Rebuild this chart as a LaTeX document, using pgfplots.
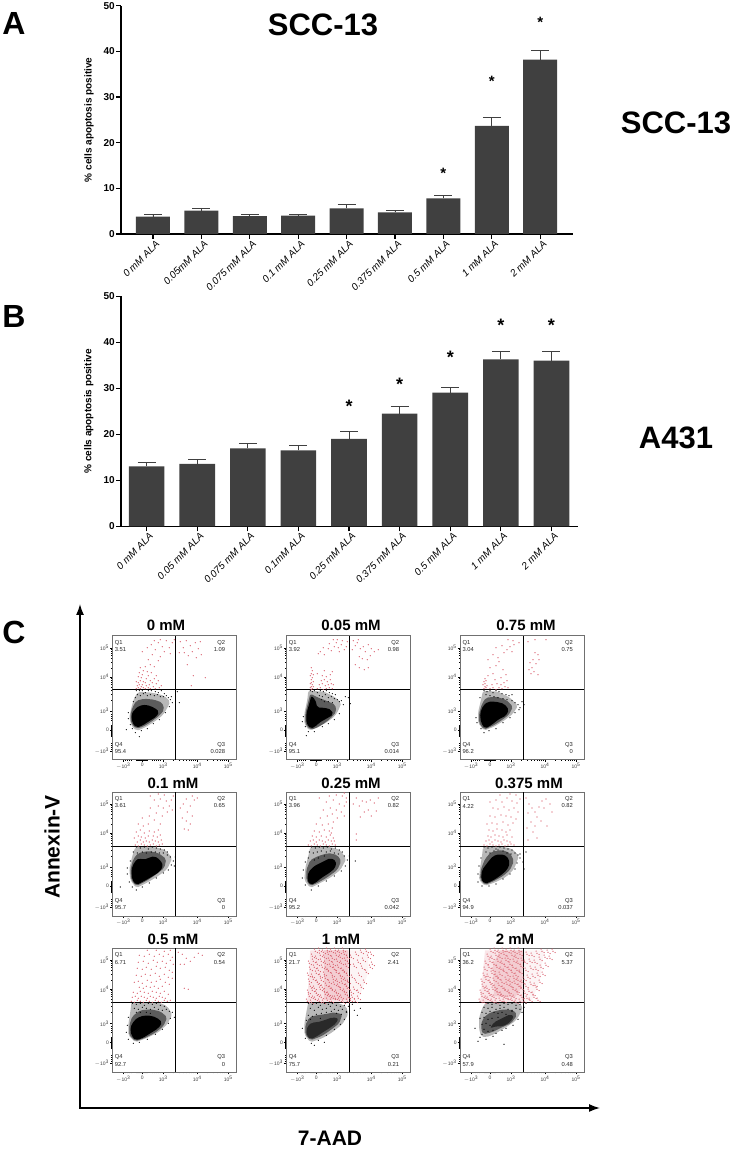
\documentclass[border=0pt]{standalone}
\usepackage{pgfplots}
\pgfplotsset{compat=1.18}
\usepackage{fontspec}
\setmainfont{Liberation Sans}
\usetikzlibrary{arrows.meta}
\definecolor{barc}{HTML}{404040}
\definecolor{redpt}{HTML}{D8606E}
\definecolor{framec}{HTML}{707070}
\newcommand{\fs}[1]{\fontsize{#1}{#1}\selectfont}
\pgfplotstableread{
x y err
0 3.8 0.5
1 5.1 0.6
2 3.9 0.4
3 4.0 0.3
4 5.6 0.9
5 4.75 0.35
6 7.8 0.6
7 23.7 1.8
8 38.2 2.0
}\tabA
\pgfplotstableread{
x y err
0 13.0 0.85
1 13.55 1.0
2 16.95 1.15
3 16.5 1.0
4 19.0 1.6
5 24.5 1.5
6 29.05 1.15
7 36.3 1.6
8 36.0 2.0
}\tabB
\tikzset{
 starn/.style={font=\bfseries\fs{#1},inner sep=0pt,yshift=-3pt},
 qtext/.style={font=\fs{5.8},text=black!85,inner sep=0pt},
}
\def\coreop{1}
\pgfplotsset{
 barax/.style={
  scale only axis, axis lines=left, axis line style={-,line width=1.5pt,black},
  ymin=0,ymax=50,ytick={0,10,20,30,40,50},
  xtick={0,...,8}, tick align=outside, major tick length=5pt,
  tick style={black,line width=1.2pt},
  /pgf/number format/assume math mode=true,
  yticklabel style={font=\bfseries\fs{10},inner sep=1pt},
  xticklabel style={font=\itshape\fs{10},rotate=45,anchor=north east,inner sep=1pt,xshift=2pt,yshift=-1pt},
  ylabel={\% cells apoptosis positive},
  ylabel style={at={(axis description cs:-0.0708,0.5)},anchor=center,font=\bfseries\fs{10},inner sep=0pt},
  clip=false,
 },
 barst/.style={ybar,bar shift=0pt,fill=barc,draw=none,
  error bars/.cd,y dir=plus,y explicit,
  error bar style={line width=0.9pt,color=barc},
  error mark options={rotate=90,mark size=9pt,line width=0.9pt,color=barc}},
 blackpts/.style={only marks,mark=*,mark size=0.3pt,color=black,mark options={solid,fill=black,draw=none}},
 redpts/.style={only marks,mark=*,mark size=0.34pt,color=redpt,mark options={solid,fill=redpt,draw=none}},
 qline/.style={black,line width=0.9pt},
 outerfill/.style={fill=black,fill opacity=0.28,draw=none,rounded corners=2pt},
 midfill/.style={fill=black,fill opacity=0.5,draw=none,rounded corners=2pt},
 corefill/.style={fill=black,fill opacity=\coreop,draw=none,rounded corners=2pt},
 redone/.style={fill=redpt,fill opacity=0.16,draw=none},
 redtwo/.style={fill=redpt,fill opacity=0.18,draw=none},
 redthr/.style={fill=redpt,fill opacity=0.07,draw=none},
 panelax/.style={
  scale only axis,width=124pt,height=124pt,xmin=0,xmax=124,ymin=0,ymax=124,
  axis line style={framec,line width=0.7pt},
  tick align=outside,xtick pos=bottom,ytick pos=left,
  major tick length=2.2pt,minor tick length=1.1pt,
  tick style={black,line width=0.35pt},
  minor tick style={black,line width=0.3pt},
  xtick={11,30,51,85,116},
  xticklabels={$-$10\textsuperscript{3},0,10\textsuperscript{3},10\textsuperscript{4},10\textsuperscript{5}},
  ytick={9,30,49,83,112},
  yticklabels={$-$10\textsuperscript{3},0,10\textsuperscript{3},10\textsuperscript{4},10\textsuperscript{5}},
  minor xtick={13,15,17,19,24,25,26,27,28,29,31,32,33,34,35,40,42,44,46,48,61,67,71,74,77,79,81,83,95,101,105,108,110,112,114},
  minor ytick={11,13,15,17,24,25,26,27,28,29,31,32,33,34,35,40,42,44,46,60,66,70,73,76,78,80,82,92,98,102,105,107,109,111},
  ticklabel style={font=\fs{5},text=black!75,inner sep=1pt},
 },
}
% Panel data: hand estimates in frame pixels, measured from the frame's lower left corner
\def\oA{(24,29)(19,34)(17,42)(19,52)(22,62)(26,68)(40,67)(52,64)(58,58)(54,50)(50,44)(42,38)(34,33)(28,30)}
\def\mA{(24,31)(19,36)(18,44)(20,52)(24,59)(32,61)(42,60)(50,57)(52,50)(47,44)(39,38)(31,33)}
\def\cA{(24,32)(20,37)(19,45)(22,50)(27,54)(34,55)(42,52)(47,48)(44,43)(36,38)(30,34)}
\def\hA{(24,69)(27,69)(30,69)(33,67)(36,69)(39,69)(43,68)(46,67)(49,69)(52,66)(25,65)(28,64)(31,66)(35,64)(38,65)(42,64)(45,65)(48,63)(51,63)(54,64)(56,62)(58,60)(23,62)(21,58)(59,63)(16,47)(16,41)(18,35)(20,31)(23,27)(29,29)(35,31)(41,36)(47,40)(53,47)(57,53)(60,57)(14,30)(27,23)(65,68)(67,57)}
\def\rA{(24,71)(26,72)(28,71)(25,74)(27,75)(29,73)(31,72)(33,71)(30,75)(26,77)(24,78)(28,79)(31,78)(34,74)(36,72)(38,71)(37,75)(33,77)(29,82)(26,83)(30,85)(34,81)(38,79)(41,73)(43,71)(44,76)(40,77)(47,72)(49,74)(46,79)(42,81)(36,84)(27,87)(31,89)(35,88)(28,92)(33,93)(39,87)(44,84)(38,95)(42,93)(46,99)(36,100)(40,105)(48,103)(30,108)(35,112)(39,115)(43,110)(46,117)(50,113)(54,119)(57,112)(60,117)(52,108)(58,106)(62,120)(48,120)(42,119)(68,118)(71,112)(74,119)(78,114)(80,108)(83,117)(86,111)(89,105)(84,102)(76,104)(72,107)(88,118)(67,107)(75,95)(81,84)(93,82)(79,74)}

\def\oB{(23,29)(18,36)(18,46)(21,60)(22,69)(38,68)(48,63)(55,57)(52,49)(48,43)(40,37)(32,33)}
\def\mB{(24,30)(19,36)(19,46)(22,58)(24,66)(32,62)(40,59)(49,55)(50,48)(44,41)(36,35)(29,31)}
\def\cB{(24,31)(20,37)(20,46)(23,56)(25,64)(29,60)(31,52)(38,52)(45,50)(47,45)(40,41)(33,37)(29,33)}
\def\hB{(24,69)(26,68)(28,69)(31,67)(34,69)(37,68)(40,69)(43,67)(46,66)(49,65)(33,64)(36,63)(39,65)(42,62)(45,63)(48,61)(51,60)(53,58)(55,59)(57,55)(35,60)(38,58)(42,58)(46,57)(17,43)(16,38)(19,33)(22,28)(28,28)(36,33)(42,36)(48,40)(53,46)(59,63)(62,62)(64,56)(20,24)}
\def\rB{(25,70)(26,71)(24,72)(25,73)(27,73)(26,75)(24,76)(25,77)(27,78)(25,80)(26,82)(24,84)(25,86)(27,85)(26,89)(25,92)(31,71)(34,72)(37,70)(40,71)(43,72)(46,71)(33,75)(36,76)(39,74)(42,75)(45,76)(35,79)(38,80)(41,78)(44,80)(47,75)(36,84)(40,83)(44,85)(46,88)(31,86)(38,89)(32,106)(34,108)(38,105)(37,112)(42,111)(45,109)(48,113)(50,117)(52,112)(55,115)(53,108)(58,110)(60,113)(47,120)(51,120)(56,119)(61,118)(43,116)(66,110)(69,114)(71,117)(74,111)(77,113)(79,108)(82,115)(85,111)(88,108)(73,103)(76,101)(81,100)(84,104)(69,95)(73,92)(78,90)(82,92)(67,119)(72,120)(92,110)}

\def\oC{(24,29)(18,37)(18,47)(21,60)(23,69)(38,68)(50,62)(58,54)(53,46)(44,39)(34,33)}
\def\mC{(24,30)(19,37)(19,46)(22,56)(26,62)(36,63)(46,60)(53,53)(49,45)(41,39)(33,34)}
\def\cC{(25,31)(21,37)(20,46)(23,54)(28,58)(36,58)(44,56)(49,50)(46,44)(38,40)(32,35)}
\def\hC{(24,69)(27,68)(30,69)(33,67)(36,69)(39,68)(42,66)(46,65)(49,64)(26,65)(30,64)(34,63)(38,62)(43,61)(47,60)(52,59)(55,57)(58,55)(60,52)(62,58)(16,42)(17,37)(21,31)(24,27)(29,29)(36,31)(43,37)(50,42)(55,47)(59,50)(20,62)(64,55)(52,65)}
\def\rC{(24,71)(25,73)(26,72)(23,75)(25,76)(27,74)(24,78)(26,79)(25,81)(30,71)(33,72)(36,70)(39,72)(42,71)(45,73)(48,72)(32,75)(37,76)(41,75)(44,77)(47,79)(35,80)(28,84)(33,86)(41,82)(46,85)(30,92)(36,94)(43,90)(39,98)(28,100)(33,105)(38,102)(44,107)(47,110)(42,114)(50,113)(54,115)(52,108)(36,112)(48,120)(53,119)(59,117)(68,118)(75,120)(86,120)(70,97)(73,100)(76,96)(72,92)(69,90)(74,88)(78,105)(75,107)(79,100)(71,86)(78,85)}

\def\oD{(24,28)(18,36)(17,47)(20,60)(23,69)(42,69)(53,66)(60,58)(55,47)(46,40)(36,34)}
\def\mD{(24,30)(19,36)(18,46)(21,57)(26,63)(36,65)(46,63)(54,57)(52,48)(43,41)(34,35)}
\def\cD{(24,31)(20,36)(19,46)(22,54)(27,58)(31,56)(36,58)(42,60)(48,56)(51,50)(47,44)(39,39)(32,35)}
\def\hD{(24,69)(28,68)(32,69)(36,67)(40,69)(44,68)(48,67)(52,66)(55,64)(21,64)(25,63)(30,64)(34,63)(39,64)(43,64)(47,63)(51,63)(55,61)(58,59)(61,55)(59,51)(56,46)(51,43)(44,38)(37,33)(30,29)(24,26)(20,29)(17,34)(15,42)(15,48)(18,55)(8,29)(63,59)(62,50)}
\def\rD{(23,71)(26,70)(29,72)(32,71)(35,70)(38,71)(41,72)(44,70)(47,71)(50,72)(25,74)(28,76)(31,74)(34,75)(37,74)(40,76)(43,75)(46,74)(49,76)(22,78)(26,80)(29,79)(33,78)(36,80)(41,80)(45,79)(48,81)(24,84)(28,86)(32,83)(37,85)(42,84)(46,86)(26,92)(31,90)(36,92)(42,96)(48,92)(37,100)(30,98)(44,103)(50,100)(55,104)(38,108)(46,110)(51,108)(57,110)(60,106)(42,116)(48,117)(54,115)(59,116)(61,120)(38,120)(52,121)(46,122)(68,108)(71,112)(75,104)(78,110)(82,116)(85,118)(80,120)(74,117)(70,98)(74,95)(78,92)(72,87)(76,86)(80,100)}

\def\oE{(24,28)(18,36)(19,48)(22,60)(24,69)(44,69)(54,66)(60,57)(54,46)(45,39)(34,33)}
\def\mE{(24,30)(20,36)(20,46)(24,56)(32,60)(42,63)(51,61)(55,55)(51,46)(40,38)(31,33)}
\def\cE{(24,31)(21,36)(22,44)(28,50)(36,54)(44,58)(50,55)(49,48)(43,43)(35,38)(29,33)}
\def\hE{(25,69)(29,68)(33,69)(37,68)(41,69)(45,67)(49,68)(53,66)(56,64)(23,64)(27,63)(31,64)(35,65)(40,64)(44,65)(48,63)(52,62)(58,60)(61,56)(59,50)(55,45)(48,40)(40,35)(32,30)(25,26)(19,31)(16,38)(17,46)(19,54)(22,58)(63,60)(69,55)(38,60)(32,58)(28,56)}
\def\rE{(22,71)(25,70)(28,72)(31,71)(34,70)(37,72)(40,71)(43,70)(46,72)(49,71)(24,75)(27,76)(30,74)(33,76)(36,75)(39,74)(42,76)(45,75)(48,75)(26,80)(30,79)(35,80)(40,79)(44,81)(47,78)(28,85)(33,84)(38,86)(43,85)(46,88)(45,83)(30,92)(36,91)(42,92)(47,94)(34,98)(41,100)(46,102)(51,98)(37,106)(44,108)(50,106)(55,104)(58,100)(40,114)(47,116)(53,112)(58,110)(60,114)(43,120)(50,121)(56,120)(60,118)(58,123)(33,118)(67,112)(70,118)(73,110)(76,115)(80,114)(84,116)(88,113)(92,118)(78,104)(82,106)(85,100)(90,105)(74,99)(70,82)(70,76)}

\def\oF{(25,30)(19,36)(20,48)(22,60)(23,69)(44,69)(52,67)(59,60)(54,47)(46,39)(36,34)}
\def\mF{(25,31)(20,37)(21,47)(25,57)(31,64)(42,66)(50,63)(54,55)(50,46)(43,40)(34,35)}
\def\cF{(25,32)(21,37)(22,46)(28,54)(33,60)(40,62)(47,60)(50,53)(47,46)(40,40)(32,35)}
\def\hF{(24,69)(28,68)(32,69)(36,67)(40,69)(44,68)(48,67)(52,66)(26,64)(30,63)(34,65)(38,66)(43,65)(47,63)(51,62)(55,63)(58,61)(60,58)(57,53)(55,47)(50,42)(43,37)(36,32)(29,30)(22,30)(18,34)(18,42)(19,50)(21,58)(60,62)(63,54)(66,64)(64,47)}
\def\rF{(24,71)(27,70)(30,72)(33,71)(36,70)(39,71)(42,72)(45,70)(48,71)(51,72)(54,71)(26,75)(29,76)(32,74)(35,76)(38,75)(41,74)(44,76)(47,75)(50,74)(28,80)(31,79)(35,81)(39,80)(43,79)(47,81)(52,79)(29,86)(33,85)(37,87)(42,86)(46,84)(50,86)(27,92)(32,93)(37,92)(43,94)(48,91)(53,93)(30,100)(35,99)(41,101)(46,100)(51,99)(56,97)(33,108)(38,107)(44,109)(49,106)(54,108)(58,104)(30,114)(36,116)(42,114)(47,118)(52,115)(57,113)(60,117)(40,121)(50,122)(56,121)(66,118)(69,112)(72,108)(68,103)(75,104)(79,109)(82,115)(86,117)(90,112)(84,108)(77,99)(71,94)(75,90)(81,95)(67,88)(73,84)(87,90)(92,104)(68,76)(77,78)}

\def\oG{(23,30)(16,37)(16,48)(18,60)(19,70)(46,70)(55,66)(60,58)(55,48)(46,40)(34,34)}
\def\mG{(23,31)(17,37)(17,47)(20,56)(28,62)(38,63)(48,61)(55,55)(51,46)(42,39)(32,34)}
\def\cG{(23,32)(19,37)(18,45)(22,52)(28,56)(36,57)(44,55)(50,50)(46,44)(38,39)(30,34)}
\def\hG{(20,69)(24,68)(28,69)(32,67)(36,69)(40,68)(44,69)(48,67)(52,66)(22,64)(26,63)(30,65)(34,64)(38,63)(42,65)(46,63)(50,62)(54,63)(57,61)(60,60)(58,54)(56,49)(50,43)(43,38)(35,33)(27,30)(21,29)(16,33)(14,40)(15,47)(16,55)(24,60)(28,60)(34,60)(38,59)(62,55)}
\def\rG{(19,71)(22,70)(25,72)(28,71)(31,70)(34,72)(37,71)(40,70)(43,72)(46,71)(49,70)(52,72)(55,71)(58,72)(20,75)(23,76)(26,74)(29,76)(32,75)(35,74)(38,76)(41,75)(44,74)(47,76)(50,75)(53,74)(21,80)(25,79)(28,81)(32,80)(36,79)(40,81)(44,80)(48,79)(52,81)(56,78)(27,85)(31,84)(34,86)(38,85)(42,86)(46,84)(50,86)(22,90)(26,91)(30,89)(35,92)(39,90)(44,91)(48,93)(53,90)(57,88)(24,97)(29,96)(33,98)(38,97)(43,99)(47,96)(52,98)(56,95)(60,94)(25,104)(30,103)(34,105)(39,103)(44,106)(48,104)(53,105)(57,102)(60,100)(26,110)(31,111)(36,109)(41,112)(45,110)(50,111)(54,109)(58,112)(27,117)(32,116)(37,118)(42,116)(47,118)(51,116)(56,118)(60,115)(35,122)(44,122)(52,121)(58,122)(61,108)(66,120)(70,118)(74,114)(78,111)(82,115)(86,119)(90,117)(68,108)(72,108)(72,84)(76,83)}

\def\oH{(24,30)(18,38)(18,48)(20,60)(22,70)(50,70)(60,66)(62,58)(56,48)(46,40)(36,34)}
\def\mH{(24,32)(19,38)(19,47)(23,55)(30,57)(38,58)(48,60)(56,58)(53,49)(44,42)(35,36)}
\def\cH{(24,33)(20,38)(21,46)(26,50)(31,50)(38,52)(46,55)(52,54)(50,49)(43,44)(35,39)(29,35)}
\def\hH{(22,69)(26,68)(30,69)(34,67)(38,69)(42,68)(46,69)(50,67)(54,66)(58,67)(24,64)(28,62)(32,65)(36,63)(40,64)(44,66)(48,63)(52,62)(56,63)(60,61)(22,57)(26,56)(30,58)(35,59)(40,60)(45,61)(50,59)(55,58)(20,52)(24,53)(34,54)(58,53)(60,60)(54,48)(48,43)(40,37)(32,32)(25,29)(19,34)(16,44)(62,66)(68,62)(71,57)(66,68)(74,64)(28,27)(38,30)}
\def\rH{(21,71)(25,70)(29,73)(33,71)(37,70)(41,72)(45,71)(49,74)(53,72)(57,70)(61,71)(23,76)(27,74)(31,77)(35,75)(39,78)(43,76)(47,74)(51,77)(55,75)(59,78)(62,75)(22,80)(26,82)(30,79)(34,83)(38,81)(42,78)(46,82)(50,80)(54,83)(58,81)(61,84)(24,86)(28,84)(32,88)(36,85)(40,87)(44,84)(48,88)(52,86)(56,89)(60,86)(23,91)(27,93)(31,90)(35,92)(39,94)(43,90)(47,93)(51,91)(55,94)(59,92)(62,90)(22,97)(26,96)(30,99)(34,96)(38,98)(42,101)(46,97)(50,100)(54,97)(58,100)(61,97)(24,103)(28,105)(32,102)(36,105)(40,103)(44,106)(48,103)(52,105)(56,102)(60,106)(23,109)(27,111)(31,108)(35,111)(39,109)(43,112)(47,108)(51,111)(55,109)(59,112)(62,109)(26,116)(30,114)(34,117)(38,115)(42,118)(46,114)(50,117)(54,115)(58,118)(61,115)(29,121)(33,122)(37,120)(41,122)(45,121)(49,122)(53,120)(57,122)(64,72)(66,75)(69,71)(72,74)(65,80)(68,83)(72,80)(75,85)(78,90)(70,90)(66,95)(73,97)(80,100)(76,104)(84,105)(68,106)(72,110)(77,112)(82,115)(86,108)(65,115)(70,118)(75,120)(80,121)(85,118)}

\def\oI{(21,36)(19,44)(19,54)(22,64)(26,70)(56,70)(63,66)(60,58)(55,51)(46,45)(34,38)(26,35)}
\def\mI{(23,38)(21,44)(22,52)(27,58)(34,61)(44,63)(54,62)(57,57)(51,49)(42,45)(32,40)}
\def\cI{(36,46)(30,44)(34,50)(42,54)(50,58)(54,56)(50,50)(43,46)}
\def\hI{(28,69)(32,68)(36,69)(40,67)(44,69)(48,68)(52,69)(56,67)(60,68)(24,65)(28,64)(32,65)(36,63)(40,64)(44,65)(48,63)(52,62)(56,64)(60,63)(22,60)(26,59)(30,61)(34,60)(38,59)(42,60)(46,58)(52,61)(20,54)(24,55)(28,53)(32,54)(38,55)(22,48)(26,49)(30,47)(24,43)(28,41)(22,38)(33,42)(36,39)(42,42)(46,44)(53,47)(58,53)(62,60)(64,65)(66,69)(20,35)(26,33)(33,36)(44,28)(15,44)(18,31)}
\def\rI{(20,71)(24,70)(28,73)(32,71)(36,70)(40,72)(44,71)(48,74)(52,72)(56,70)(60,71)(22,76)(26,74)(30,77)(34,75)(38,78)(42,76)(46,74)(50,77)(54,75)(58,78)(62,75)(21,80)(25,82)(29,79)(33,83)(37,81)(41,78)(45,82)(49,80)(53,83)(57,81)(61,84)(23,86)(27,84)(31,88)(35,85)(39,87)(43,84)(47,88)(51,86)(55,89)(59,86)(22,91)(26,93)(30,90)(34,92)(38,94)(42,90)(46,93)(50,91)(54,94)(58,92)(62,90)(24,97)(28,96)(32,99)(36,96)(40,98)(44,101)(48,97)(52,100)(56,97)(60,100)(25,103)(29,105)(33,102)(37,105)(41,103)(45,106)(49,103)(53,105)(57,102)(61,106)(26,109)(30,111)(34,108)(38,111)(42,109)(46,112)(50,108)(54,111)(58,109)(62,112)(28,116)(32,114)(36,117)(40,115)(44,118)(48,114)(52,117)(56,115)(60,118)(31,121)(35,122)(39,120)(43,122)(47,121)(51,122)(55,120)(59,122)(64,71)(67,74)(70,72)(74,75)(65,79)(69,81)(73,78)(77,83)(66,86)(71,88)(75,87)(80,90)(64,93)(68,95)(73,96)(78,97)(83,98)(66,102)(71,104)(76,103)(81,105)(86,107)(65,110)(70,111)(75,110)(80,113)(85,115)(90,114)(67,118)(72,117)(77,119)(82,121)(88,120)(93,121)(78,72)}
\def\uH{(21,70)(24,122)(63,122)(63,70)}
\def\vH{(38,72)(38,122)(62,122)(62,72)}
\def\wH{(63,70)(63,122)(82,122)(82,100)(72,72)}
\def\uI{(20,70)(25,122)(63,122)(63,70)}
\def\vI{(34,76)(33,108)(40,122)(63,122)(62,85)(55,75)}
\def\wI{(63,70)(63,122)(84,122)(80,92)(72,72)}

\newif\ifdense
\newcommand{\setq}[4]{\def\qa{#1}\def\qb{#2}\def\qc{#3}\def\qd{#4}}
% #1 left, #2 frame bottom (from page top), #3 id, #4 and #5 title centre (from page top), #6 title
\newcommand{\panel}[6]{%
 \node[font=\bfseries\fs{15},inner sep=0pt,anchor=center] at (#4pt,1150pt-#5pt) {#6};
 \begin{axis}[panelax,at={(#1pt,1150pt-#2pt)},anchor=south west]
  \ifdense
   \edef\tmp{\noexpand\addplot[redone] coordinates {\csname u#3\endcsname} -- cycle;
    \noexpand\addplot[redtwo] coordinates {\csname v#3\endcsname} -- cycle;
    \noexpand\addplot[redthr] coordinates {\csname w#3\endcsname} -- cycle;
    \noexpand\addplot[redpts,xshift=2.1pt,yshift=-1.3pt] coordinates {\csname r#3\endcsname};
    \noexpand\addplot[redpts,xshift=-0.9pt,yshift=2.2pt] coordinates {\csname r#3\endcsname};}\tmp
  \fi
  \edef\tmp{\noexpand\addplot[redpts] coordinates {\csname r#3\endcsname};
   \noexpand\addplot[outerfill] coordinates {\csname o#3\endcsname} -- cycle;
   \noexpand\addplot[midfill] coordinates {\csname m#3\endcsname} -- cycle;
   \noexpand\addplot[corefill] coordinates {\csname c#3\endcsname} -- cycle;
   \noexpand\addplot[blackpts] coordinates {\csname h#3\endcsname};}\tmp
  \addplot[qline] coordinates {(63.2,0)(63.2,124)};
  \addplot[qline] coordinates {(0,70)(124,70)};
  \node[qtext,anchor=west] at (axis cs:2.3,117) {Q1};
  \node[qtext,anchor=west] at (axis cs:2.3,110) {\qa};
  \node[qtext,anchor=east] at (axis cs:113,117) {Q2};
  \node[qtext,anchor=east] at (axis cs:113,110) {\qb};
  \node[qtext,anchor=east] at (axis cs:113,15) {Q3};
  \node[qtext,anchor=east] at (axis cs:113,8) {\qc};
  \node[qtext,anchor=west] at (axis cs:2.3,15) {Q4};
  \node[qtext,anchor=west] at (axis cs:2.3,8) {\qd};
 \end{axis}}
\begin{document}
\begin{tikzpicture}[x=1pt,y=1pt]
\path[use as bounding box] (0,0) rectangle (735,1150);
% panel letters and cell line names
\node[font=\bfseries\fs{32},inner sep=0pt] at (14,1126) {A};
\node[font=\bfseries\fs{32},inner sep=0pt] at (14,833) {B};
\node[font=\bfseries\fs{32},inner sep=0pt] at (14,518) {C};
\node[font=\bfseries\fs{31},inner sep=0pt] at (323,1125) {SCC-13};
\node[font=\bfseries\fs{31},inner sep=0pt] at (676,1027) {SCC-13};
\node[font=\bfseries\fs{31},inner sep=0pt] at (676,712) {A431};
% bar chart A
\begin{axis}[barax,at={(121pt,916pt)},anchor=south west,width=452pt,height=228.3pt,
  xmin=-0.661,xmax=8.678,
  xticklabels={0 mM ALA,0.05mM ALA,0.075 mM ALA,0.1 mM ALA,0.25 mM ALA,0.375 mM ALA,0.5 mM ALA,1 mM ALA,2 mM ALA}]
 \addplot[bar width=34pt,barst] table[x=x,y=y,y error=err] {\tabA};
 \node[starn=15] at (axis cs:6,14) {*};
 \node[starn=15] at (axis cs:7,34) {*};
 \node[starn=15] at (axis cs:8,47) {*};
\end{axis}
% bar chart B
\begin{axis}[barax,at={(121pt,623.7pt)},anchor=south west,width=456.6pt,height=230pt,
  xmin=-0.506,xmax=8.516,
  xticklabels={0 mM ALA,0.05 mM ALA,0.075 mM ALA,0.1mM ALA,0.25 mM ALA,0.375 mM ALA,0.5 mM ALA,1 mM ALA,2 mM ALA}]
 \addplot[bar width=35.6pt,barst] table[x=x,y=y,y error=err] {\tabB};
 \node[starn=18] at (axis cs:4,26.8) {*};
 \node[starn=18] at (axis cs:5,31.5) {*};
 \node[starn=18] at (axis cs:6,37.3) {*};
 \node[starn=18] at (axis cs:7,44.3) {*};
 \node[starn=18] at (axis cs:8,44.3) {*};
\end{axis}
% panel C axes
\draw[line width=1.5pt,-{Latex[length=11pt,width=8pt]}] (80,42) -- (80,546);
\draw[line width=1.5pt,-{Latex[length=11pt,width=8pt]}] (79.25,42) -- (600,42);
\node[font=\bfseries\fs{21},inner sep=0pt,rotate=90] at (52,303) {Annexin-V};
\node[font=\bfseries\fs{21},inner sep=0pt] at (330,12) {7-AAD};
% flow panels
\setq{3.51}{1.09}{0.028}{95.4}\panel{112.3}{759.7}{A}{166}{625}{0 mM}
\setq{3.92}{0.98}{0.014}{95.1}\panel{286.3}{759.7}{B}{351}{625}{0.05 mM}
\setq{3.04}{0.75}{0}{96.2}\panel{460}{759.7}{C}{526}{625}{0.75 mM}
\setq{3.61}{0.65}{0}{95.7}\panel{112.3}{916}{D}{173}{783}{0.1 mM}
\setq{3.96}{0.82}{0.042}{95.2}\panel{286.3}{916}{E}{351}{783}{0.25 mM}
\setq{4.22}{0.82}{0.037}{94.9}\panel{460}{916}{F}{529}{783}{0.375 mM}
\setq{6.71}{0.54}{0}{92.7}\panel{112.3}{1072.3}{G}{173}{939}{0.5 mM}
\densetrue\def\coreop{0.55}
\setq{21.7}{2.41}{0.21}{75.7}\panel{286.3}{1072.3}{H}{341}{939}{1 mM}
\setq{36.2}{5.37}{0.48}{57.9}\panel{460}{1072.3}{I}{515}{939}{2 mM}
\end{tikzpicture}
\end{document}
